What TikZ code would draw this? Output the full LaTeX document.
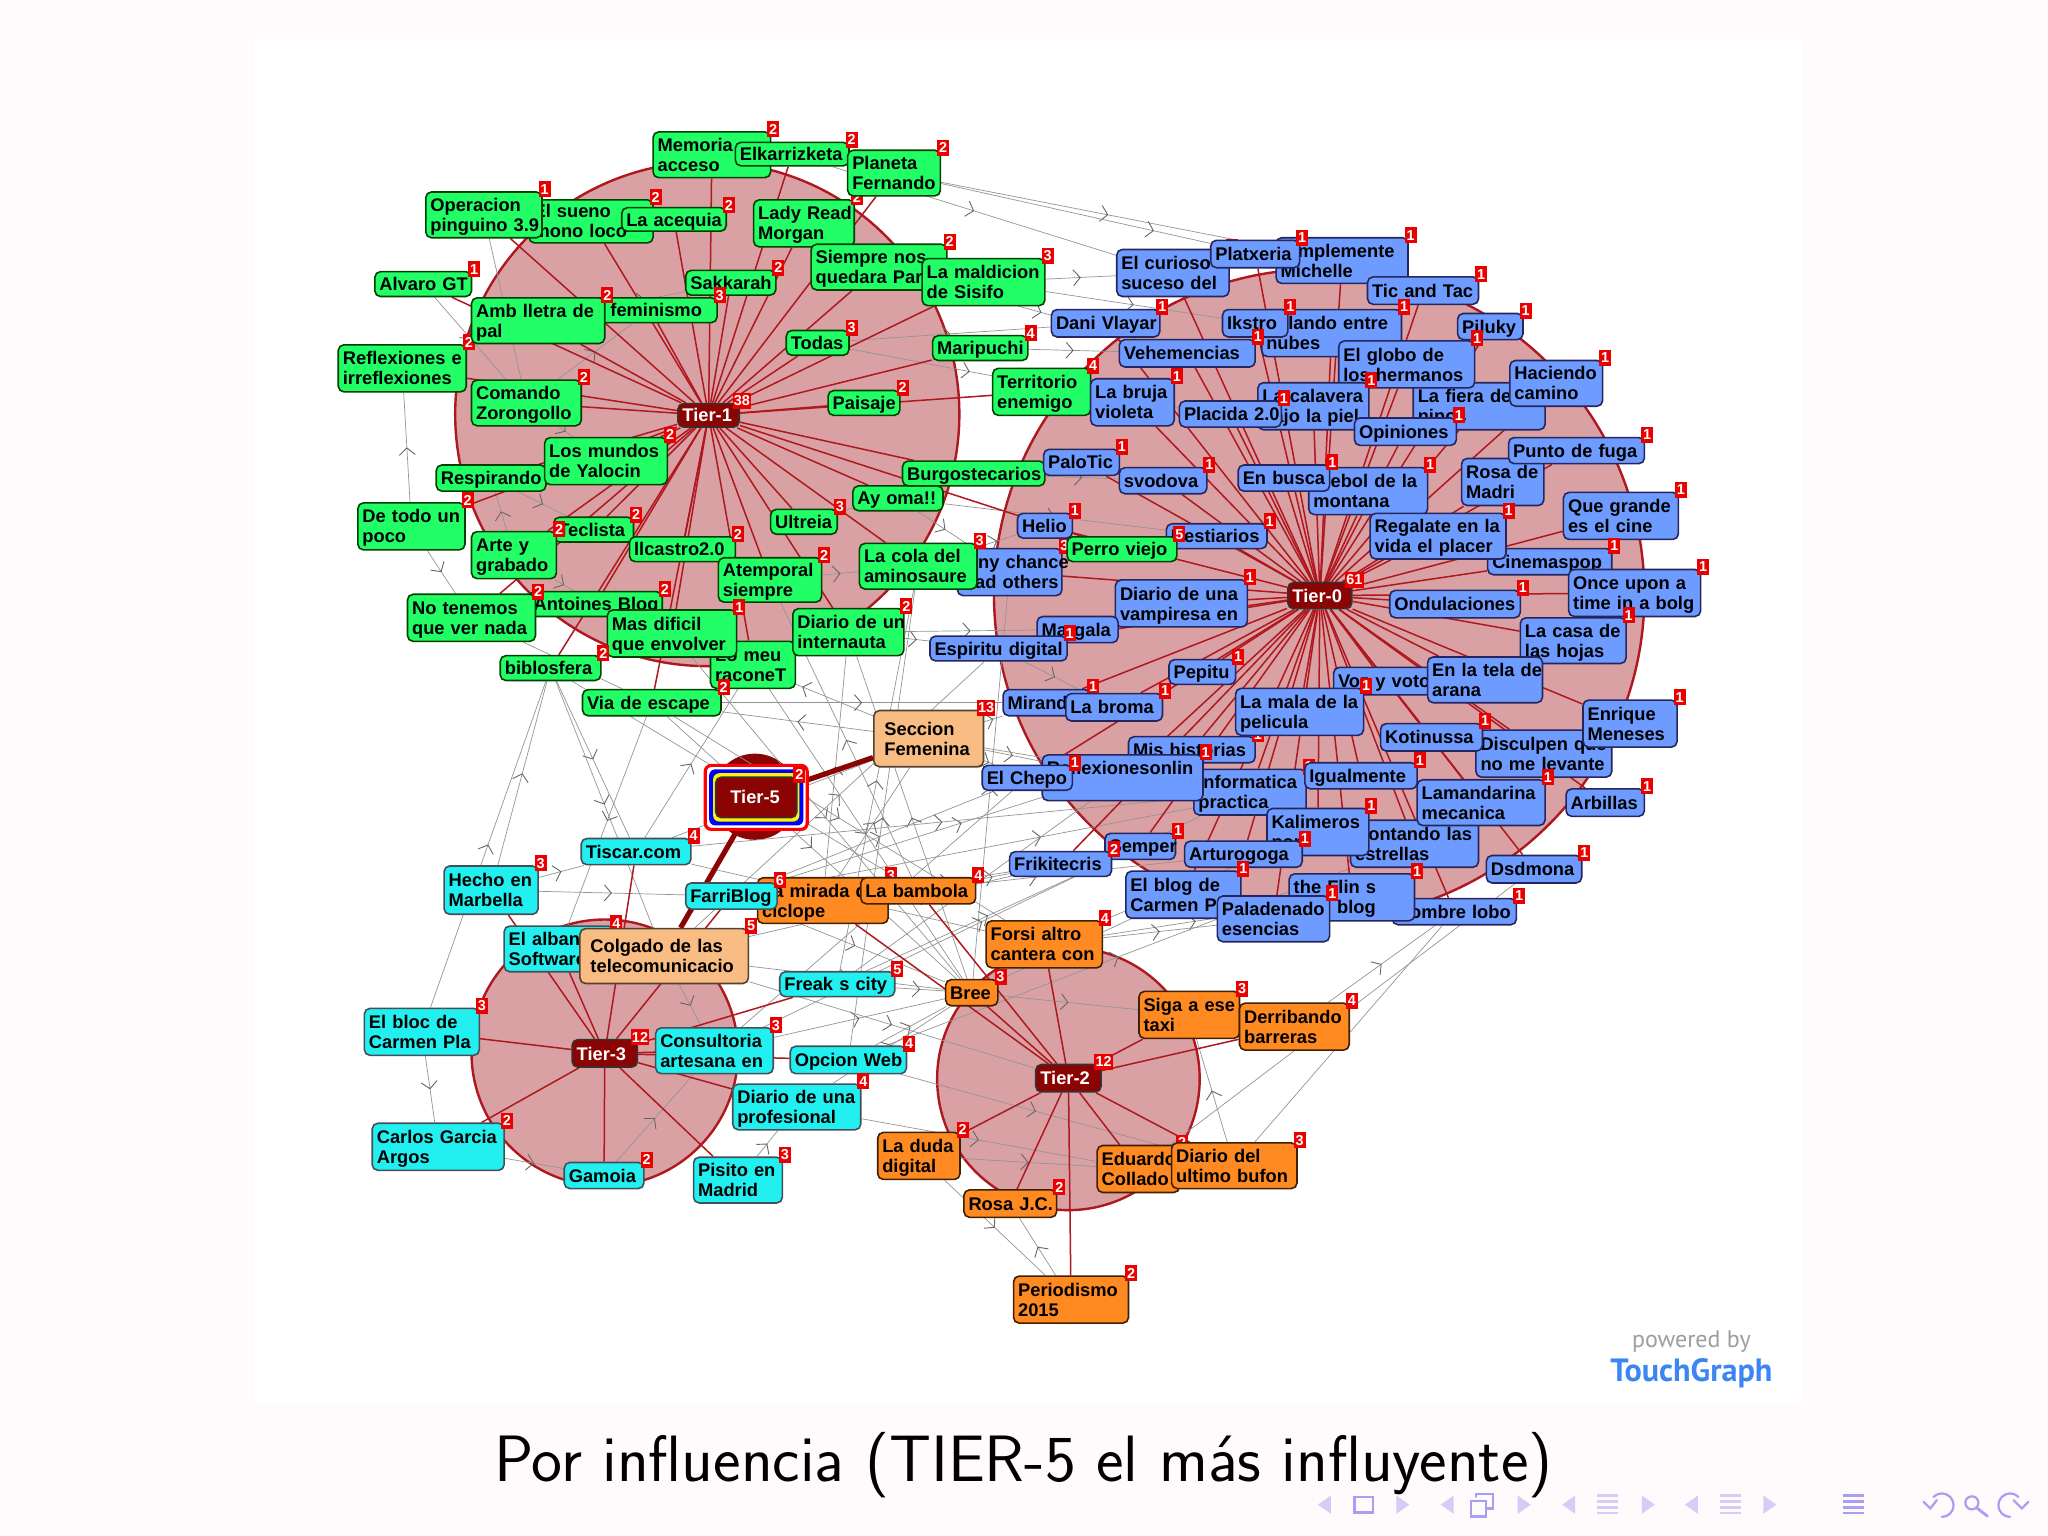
\documentclass[tikz,border=0pt]{standalone}
\usepackage{fontspec}
\usetikzlibrary{arrows.meta,backgrounds,decorations.markings}
\newfontfamily\blogfont{Liberation Sans}
\newfontfamily\logofont{PT Sans}

\definecolor{slidebg}{HTML}{FFFAFB}
\definecolor{ringfill}{HTML}{D9A1A3}
\definecolor{ringline}{HTML}{B0181F}
\definecolor{tierred}{HTML}{8A0404}
\definecolor{greenblog}{HTML}{22FF66}
\definecolor{blueblog}{HTML}{6E9BFF}
\definecolor{cyanblog}{HTML}{22F0F0}
\definecolor{orangeblog}{HTML}{FF8A22}
\definecolor{peachblog}{HTML}{F9BC82}
\definecolor{navcol}{HTML}{D2CEF6}
\definecolor{navdark}{HTML}{A79FF0}
\definecolor{touchblue}{HTML}{3B86F2}

\tikzset{
	blogbox/.style = {rectangle, rounded corners=2.8pt, line width=.8pt, inner sep=0pt, align=left, font=\blogfont\fontsize{9.15}{10}\bfseries\selectfont},
	greenbox/.style = {blogbox, fill=greenblog, draw=green!25!black},
	bluebox/.style = {blogbox, fill=blueblog, draw=blue!25!black!85},
	cyanbox/.style = {blogbox, fill=cyanblog, draw=cyan!25!black},
	orangebox/.style = {blogbox, fill=orangeblog, draw=orange!25!black},
	peachbox/.style = {blogbox, fill=peachblog, draw=orange!15!black!80},
	tierbox/.style = {blogbox, fill=tierred, draw=black!80, text=white},
	badge/.style = {rectangle, fill=red!92!black, text=white, inner xsep=.6pt, inner ysep=0pt, minimum width=6pt, minimum height=8pt, font=\blogfont\fontsize{7.2}{7.5}\bfseries\selectfont},
	tieredge/.style = {draw=ringline, line width=.75pt},
	fatedge/.style = {draw=tierred, line width=2.6pt},
	linkedge/.style = {draw=black!42, line width=.35pt, postaction={decorate},
		decoration={markings, mark=at position .5 with {\arrow{Straight Barb[length=3.5pt,width=8pt,color=black!60,line width=.45pt]}}}},
	navmark/.style = {fill=navcol, draw=none},
	navline/.style = {draw=navcol, line width=.9pt, fill=none},
	navdraw/.style = {draw=navdark, line width=1.1pt, fill=none, line cap=round},
}

% style, name, x1, y1, x2, y2, text, count
\newcommand{\blog}[8]{%
	\pgfmathsetlengthmacro{\boxw}{(#5-#3)*.653pt}%
	\pgfmathsetlengthmacro{\boxh}{(#6-#4)*.653pt}%
	\pgfmathsetlengthmacro{\textw}{(#5-#3-7)*.653pt}%
	\node[#1, minimum width=\boxw, minimum height=\boxh, text width=\textw] (#2) at ({(#3+#5)/2},{(#4+#6)/2})
		{\raisebox{-1.3pt}[\height][\depth]{\begin{tabular}{@{}l@{}}#7\end{tabular}}};
	\if\relax\detokenize{#8}\relax\else
		\node[badge] (#2-n) at ({#5+2},{#4-2}) {#8};
	\fi
}

\begin{document}
\begin{tikzpicture}[x=.653pt, y=-.653pt]
	\useasboundingbox (0,0) rectangle (1568,1176);

	% Nodes, Tier-1
	\blog{greenbox}{lady}{577}{153}{654}{189}{Lady Read\\Morgan}{2}
	\blog{greenbox}{memoria}{500}{101}{590}{136}{Memoria\\acceso}{2}
	\blog{greenbox}{elkar}{563}{109}{650}{127}{Elkarrizketa}{2}
	\blog{greenbox}{planeta}{649}{115}{720}{150}{Planeta\\Fernando}{2}
	\blog{greenbox}{sueno}{405}{153}{500}{186}{El sueno\\mono loco}{2}
	\blog{greenbox}{acequia}{476}{159}{556}{177}{La acequia}{2}
	\blog{greenbox}{operacion}{326}{147}{415}{182}{Operacion\\pinguino 3.9}{1}
	\blog{greenbox}{alvaro}{287}{208}{361}{227}{Alvaro GT}{1}
	\blog{greenbox}{sakkarah}{525}{207}{594}{226}{Sakkarah}{2}
	\blog{greenbox}{siempre}{621}{187}{725}{222}{Siempre nos\\quedara Par}{2}
	\blog{greenbox}{maldicion}{706}{198}{800}{234}{La maldicion\\de Sisifo}{3}
	\blog{greenbox}{feminismo}{447}{228}{549}{247}{\hspace*{11pt}feminismo}{3}
	\blog{greenbox}{reflexiones}{259}{264}{357}{300}{Reflexiones e\\irreflexiones}{2}
	\blog{greenbox}{amb}{361}{228}{463}{263}{Amb lletra de\\pal}{2}
	\blog{greenbox}{todas}{602}{253}{650}{272}{Todas}{3}
	\blog{greenbox}{maripuchi}{714}{257}{787}{276}{Maripuchi}{4}
	\blog{greenbox}{territorio}{760}{282}{835}{318}{Territorio\\enemigo}{4}
	\blog{greenbox}{comando}{361}{291}{445}{326}{Comando\\Zorongollo}{2}
	\blog{greenbox}{paisaje}{634}{299}{689}{318}{Paisaje}{2}
	\blog{greenbox}{respirando}{334}{356}{418}{376}{Respirando}{}
	\blog{greenbox}{mundos}{417}{335}{511}{371}{Los mundos\\de Yalocin}{2}
	\blog{greenbox}{ayoma}{653}{372}{722}{391}{Ay oma!!}{}
	\blog{greenbox}{burgos}{691}{353}{800}{372}{Burgostecarios}{}
	\blog{greenbox}{ultreia}{590}{390}{641}{409}{Ultreia}{3}
	\blog{greenbox}{detodo}{274}{385}{356}{421}{De todo un\\poco}{2}
	\blog{greenbox}{teclista}{424}{396}{485}{415}{Teclista}{2}
	\blog{greenbox}{arte}{361}{407}{426}{443}{Arte y\\grabado}{2}
	\blog{greenbox}{ilcastro}{482}{411}{563}{430}{llcastro2.0}{2}
	\blog{greenbox}{atemporal}{550}{427}{629}{461}{Atemporal\\siempre}{2}
	\blog{greenbox}{antoines}{405}{453}{507}{472}{Antoines Blog}{2}
	\blog{greenbox}{tenemos}{312}{455}{410}{491}{No tenemos\\que ver nada}{2}
	\blog{greenbox}{meu}{544}{491}{609}{527}{Lo meu\\raconeT}{3}
	\blog{greenbox}{masdificil}{465}{467}{564}{503}{Mas dificil\\que envolver}{1}
	\blog{greenbox}{internauta}{607}{466}{692}{502}{Diario de un\\internauta}{2}
	\blog{greenbox}{biblosfera}{383}{502}{460}{521}{biblosfera}{2}
	\blog{greenbox}{via}{446}{528}{552}{548}{Via de escape}{2}

	% Nodes, Tier-0
	\blog{bluebox}{chance}{733}{420}{813}{456}{\hspace*{1.5pt}Any chance\\Bad others}{3}
	\blog{greenbox}{cola}{658}{416}{748}{451}{La cola del\\aminosaure}{3}
	\blog{bluebox}{curioso}{855}{191}{941}{227}{El curioso\\suceso del}{1}
	\blog{bluebox}{simplemente}{977}{182}{1078}{217}{Simplemente\\Michelle}{1}
	\blog{bluebox}{platxeria}{927}{184}{995}{205}{Platxeria}{1}
	\blog{bluebox}{tictac}{1047}{212}{1132}{233}{Tic and Tac}{1}
	\blog{bluebox}{dani}{805}{237}{888}{258}{Dani Vlayar}{1}
	\blog{bluebox}{volando}{966}{237}{1073}{273}{Volando entre\\nubes}{1}
	\blog{bluebox}{ikstro}{936}{237}{986}{258}{Ikstro}{1}
	\blog{bluebox}{piluky}{1116}{240}{1166}{260}{Piluky}{1}
	\blog{bluebox}{vehemencias}{857}{260}{961}{281}{Vehemencias}{1}
	\blog{bluebox}{fiera}{1082}{293}{1183}{329}{La fiera de\\ninos}{1}
	\blog{bluebox}{globo}{1025}{261}{1129}{297}{El globo de\\los hermanos}{1}
	\blog{bluebox}{haciendo}{1156}{276}{1227}{311}{Haciendo\\camino}{1}
	\blog{bluebox}{bruja}{835}{290}{899}{326}{La bruja\\violeta}{1}
	\blog{bluebox}{calavera}{963}{293}{1048}{329}{La calavera\\bajo la piel}{1}
	\blog{bluebox}{placida}{903}{307}{981}{327}{Placida 2.0}{1}
	\blog{bluebox}{opiniones}{1037}{320}{1115}{341}{Opiniones}{1}
	\blog{bluebox}{palotic}{799}{344}{857}{364}{PaloTic}{1}
	\blog{bluebox}{svodova}{857}{358}{924}{378}{svodova}{1}
	\blog{bluebox}{trebol}{1002}{358}{1093}{394}{Trebol de la\\montana}{1}
	\blog{bluebox}{busca}{948}{356}{1018}{376}{En busca}{1}
	\blog{bluebox}{rosamadri}{1119}{351}{1182}{387}{Rosa de\\Madri}{}
	\blog{bluebox}{punto}{1155}{335}{1259}{355}{Punto de fuga}{1}
	\blog{bluebox}{cinegrande}{1197}{377}{1285}{413}{Que grande\\es el cine}{1}
	\blog{bluebox}{helio}{779}{393}{821}{412}{Helio}{1}
	\blog{bluebox}{bestiarios}{893}{401}{970}{420}{Bestiarios}{1}
	\blog{greenbox}{perro}{817}{411}{901}{430}{Perro viejo}{5}
	\blog{bluebox}{cinemaspop}{1139}{420}{1234}{440}{Cinemaspop}{1}
	\blog{bluebox}{regalate}{1049}{393}{1153}{428}{Regalate en la\\vida el placer}{1}
	\blog{bluebox}{ondulaciones}{1064}{452}{1164}{473}{Ondulaciones}{1}
	\blog{bluebox}{onceupon}{1201}{436}{1302}{472}{Once upon a\\time in a bolg}{1}
	\blog{bluebox}{casa}{1164}{473}{1245}{508}{La casa de\\las hojas}{1}
	\blog{bluebox}{vampiresa}{854}{444}{955}{480}{Diario de una\\vampiresa en}{1}
	\blog{bluebox}{margala}{794}{472}{856}{492}{Margala}{}
	\blog{bluebox}{espiritu}{712}{487}{817}{506}{Espiritu digital}{1}
	\blog{bluebox}{pepitu}{895}{505}{946}{524}{Pepitu}{1}
	\blog{bluebox}{voto}{1021}{511}{1098}{532}{Voz y voto}{}
	\blog{bluebox}{tela}{1093}{503}{1181}{538}{En la tela de\\arana}{}
	\blog{bluebox}{mirando}{768}{528}{835}{548}{Mirando}{1}
	\blog{bluebox}{broma}{816}{531}{890}{552}{La broma}{1}
	\blog{bluebox}{historias}{864}{564}{961}{584}{Mis historias}{1}
	\blog{bluebox}{lamala}{946}{527}{1044}{563}{La mala de la\\pelicula}{1}
	\blog{bluebox}{disculpen}{1130}{559}{1234}{595}{Disculpen que\\no me levante}{}
	\blog{bluebox}{kotinussa}{1057}{554}{1135}{575}{Kotinussa}{1}
	\blog{bluebox}{enrique}{1212}{536}{1284}{572}{Enrique\\Meneses}{1}
	\blog{bluebox}{informatica}{914}{589}{1000}{624}{Informatica\\practica}{1}
	\blog{bluebox}{reflexionesonlin}{798}{578}{921}{613}{Reflexionesonlin\\\mbox{}}{1}
	\blog{bluebox}{chepo}{752}{586}{821}{605}{El Chepo}{1}
	\blog{bluebox}{igualmente}{999}{584}{1085}{604}{Igualmente}{1}
	\blog{bluebox}{contando}{1034}{628}{1132}{664}{Contando las\\estrellas}{}
	\blog{bluebox}{lamandarina}{1085}{597}{1183}{632}{Lamandarina\\mecanica}{1}
	\blog{bluebox}{arbillas}{1199}{604}{1259}{625}{Arbillas}{1}
	\blog{bluebox}{kalimeros}{970}{619}{1048}{655}{Kalimeros\\por}{1}
	\blog{bluebox}{semper}{846}{638}{900}{658}{Semper}{1}
	\blog{bluebox}{arturogoga}{907}{644}{997}{664}{Arturogoga}{1}
	\blog{bluebox}{frikitecris}{773}{652}{851}{671}{Frikitecris}{2}
	\blog{bluebox}{dsdmona}{1138}{655}{1211}{676}{Dsdmona}{1}
	\blog{bluebox}{blogcarmen}{862}{667}{950}{703}{El blog de\\Carmen P}{1}
	\blog{bluebox}{hombre}{1066}{688}{1161}{708}{Hombre lobo}{1}
	\blog{bluebox}{flin}{987}{669}{1083}{705}{the Flin s\\Tom blog}{1}
	\blog{bluebox}{paladenado}{932}{686}{1018}{721}{Paladenado\\esencias}{1}

	% Nodes, Tier-2
	\blog{orangebox}{forsi}{755}{705}{844}{741}{Forsi altro\\cantera con}{4}
	\blog{orangebox}{bree}{724}{750}{764}{770}{Bree}{3}
	\blog{orangebox}{siga}{872}{759}{949}{795}{Siga a ese\\taxi}{3}
	\blog{orangebox}{derribando}{949}{768}{1033}{804}{Derribando\\barreras}{4}
	\blog{orangebox}{laduda}{672}{867}{735}{903}{La duda\\digital}{2}
	\blog{orangebox}{eduardo}{840}{877}{903}{913}{Eduardo\\Collado}{2}
	\blog{orangebox}{ultimo}{897}{875}{993}{910}{Diario del\\ultimo bufon}{3}
	\blog{orangebox}{rosajc}{738}{911}{809}{932}{Rosa J.C.}{2}
	\blog{orangebox}{periodismo}{776}{977}{864}{1013}{Periodismo\\2015}{2}
	\blog{orangebox}{mirada}{580}{672}{680}{707}{La mirada del\\ciclope}{3}
	\blog{orangebox}{bambola}{659}{672}{747}{692}{La bambola}{4}

	% Nodes, Tier-3
	\blog{cyanbox}{tiscar}{445}{642}{529}{662}{Tiscar.com}{4}
	\blog{cyanbox}{hecho}{340}{663}{412}{700}{Hecho en\\Marbella}{3}
	\blog{cyanbox}{farriblog}{525}{676}{595}{696}{FarriBlog}{6}
	\blog{cyanbox}{albani}{386}{709}{470}{744}{El albanil\\Software}{4}
	\blog{cyanbox}{freak}{597}{744}{685}{763}{Freak s city}{5}
	\blog{cyanbox}{elbloc}{279}{772}{367}{808}{El bloc de\\Carmen Pla}{3}
	\blog{cyanbox}{consultoria}{502}{787}{592}{822}{Consultoria\\artesana en}{3}
	\blog{cyanbox}{opcion}{605}{801}{694}{822}{Opcion Web}{4}
	\blog{cyanbox}{diariopro}{561}{830}{659}{865}{Diario de una\\profesional}{4}
	\blog{cyanbox}{carlos}{285}{860}{386}{896}{Carlos Garcia\\Argos}{2}
	\blog{cyanbox}{gamoia}{432}{890}{493}{910}{Gamoia}{2}
	\blog{cyanbox}{pisito}{531}{886}{599}{921}{Pisito en\\Madrid}{3}

	% Nodes, Tier-5
	\blog{peachbox}{seccion}{669}{544}{753}{587}{\hspace*{3pt}Seccion\\\hspace*{3pt}Femenina}{13}
	\blog{peachbox}{colgado}{444}{711}{573}{753}{\hspace*{3pt}Colgado de las\\\hspace*{3pt}telecomunicacio}{5}

	% Nodes, hubs
	\blog{tierbox}{tierone}{519}{309}{566}{327}{Tier-1}{38}
	\blog{tierbox}{tierzero}{986}{446}{1035}{466}{Tier-0}{61}
	\blog{tierbox}{tiertwo}{793}{815}{843}{836}{Tier-2}{12}
	\blog{tierbox}{tierthree}{438}{796}{488}{817}{Tier-3}{12}
	\draw[fill=white, draw=red, line width=1.6pt, rounded corners=3pt] (540,586) rectangle (618,635);
	\fill[blue, rounded corners=3pt] (543,589) rectangle (615,632);
	\fill[yellow, rounded corners=3pt] (546,592) rectangle (612,629);
	\blog{tierbox}{tierfive}{548}{595}{610}{626}{\hspace*{5pt}Tier-5}{2}

	% Texts
	\node[font=\logofont\fontsize{12}{12}\selectfont, text=black!38] (powered) at (1295,1027) {powered by};
	\node[font=\logofont\fontsize{16.1}{16}\bfseries\selectfont, text=touchblue] (touch) at (1295,1051) {TouchGraph};
	\node[font=\sffamily\fontsize{32.8}{34}\selectfont] (title) at (783.5,1122) {Por influencia (TIER-5 el más influyente)};

	% Navigation symbols
	\foreach \x in {1014,1108,1201,1295}
		\fill[navmark] (\x-5,1152) -- (\x+5,1145) -- (\x+5,1159) -- cycle;
	\foreach \x in {1074,1167,1262,1355}
		\fill[navmark] (\x+5,1152) -- (\x-5,1145) -- (\x-5,1159) -- cycle;
	\draw[navdraw] (1037,1146) rectangle (1051,1158);
	\draw[navdraw] (1126,1149) rectangle (1138,1161);
	\draw[navdraw] (1130,1146) -- (1130,1144) -- (1143,1144) -- (1143,1155) -- (1138,1155);
	\foreach \x in {1231,1325}
		\foreach \y in {1145,1149.5,1154,1158.5}
			\draw[navline, line width=1.3pt] (\x-8,\y) -- (\x+8,\y);
	\foreach \y in {1145,1149.5,1154,1158.5}
		\draw[navdraw, line cap=butt, line width=1.3pt] (1411,\y) -- (1427,\y);
	\draw[navdraw] (1486.7,1152.4) ++(-135:9) arc (-135:90:9);
	\draw[navdraw] (1472.7,1149.8) -- (1477.9,1154.9) -- (1482.9,1148.5);
	\draw[navdraw] (1509.7,1150.6) circle (5);
	\draw[navdraw, line width=1.4pt] (1513.5,1154.5) -- (1521.6,1160.8);
	\draw[navdraw] (1539,1152.4) ++(-45:9) arc (-45:-270:9);
	\draw[navdraw] (1541.6,1148.5) -- (1548,1154.9) -- (1553,1149.8);

	% Everything below lies under the nodes
	\begin{scope}[on background layer]
		\fill[slidebg] (0,0) rectangle (1568,1176);
		\fill[white] (195,30) rectangle (1380,1075);

		% Rings
		\fill[ringfill, draw=ringline, line width=1.2pt] (541.5,317) circle (193);
		\fill[ringfill, draw=ringline, line width=1.2pt] (1010,455) circle (249);
		\fill[ringfill, draw=ringline, line width=1.2pt] (463,806) circle (102);
		\fill[ringfill, draw=ringline, line width=1.2pt] (818,826) circle (100.5);
		\fill[tierred] (578,610) circle (33);

		% Links
		\foreach \a/\b in {planeta/simplemente, planeta/tictac, elkar/curioso, maldicion/curioso, maldicion/ikstro,
			siempre/vehemencias, maripuchi/vehemencias, todas/dani, todas/bruja, territorio/placida, burgos/palotic, burgos/svodova,
			ayoma/bestiarios, cola/helio, internauta/espiritu, via/mirando, internauta/margala, espiritu/broma,
			seccion/mirando, seccion/chepo, seccion/reflexionesonlin, seccion/informatica, seccion/masdificil, seccion/via,
			tiscar/seccion, farriblog/igualmente, mirada/arturogoga, mirada/frikitecris, bambola/frikitecris, freak/semper,
			bree/blogcarmen, forsi/flin, forsi/paladenado, forsi/kalimeros, opcion/contando, diariopro/eduardo, laduda/eduardo,
			bree/siga, ultimo/siga, derribando/hombre, ultimo/hombre, eduardo/dsdmona, periodismo/rosajc, laduda/periodismo,
			consultoria/bree, freak/bree, opcion/bree, colgado/bree, farriblog/bree, colgado/consultoria, colgado/tiertwo,
			operacion/comando, alvaro/comando, arte/antoines, tenemos/via, hecho/biblosfera, elbloc/biblosfera, detodo/reflexiones,
			detodo/tenemos, biblosfera/tiscar, biblosfera/colgado, tiscar/meu, via/albani, carlos/gamoia, elbloc/carlos,
			hecho/tiscar, hecho/farriblog, arte/respirando, amb/sakkarah, comando/mundos, comando/feminismo, respirando/teclista,
			ultreia/burgos, atemporal/cola, ayoma/chance, gamoia/consultoria, pisito/diariopro, opcion/ultimo, diariopro/bree,
			farriblog/chepo, tiscar/forsi, mirada/seccion, farriblog/historias, colgado/semper,
			freak/reflexionesonlin, consultoria/chepo, colgado/espiritu, meu/bree, via/bree, via/forsi, masdificil/bree,
			biblosfera/bambola, bambola/atemporal, mirada/internauta, freak/cola, opcion/cola, bree/internauta, bree/chance,
			tiscar/informatica, consultoria/informatica}
			\draw[linkedge] (\a) -- (\b);

		% Tier-1 spokes
		\foreach \c in {memoria, elkar, planeta, operacion, sueno, acequia, lady, alvaro, sakkarah, siempre, maldicion, feminismo,
			amb, todas, reflexiones, maripuchi, territorio, comando, paisaje, mundos, respirando, burgos, ayoma, ultreia, detodo,
			teclista, arte, ilcastro, atemporal, cola, tenemos, antoines, masdificil, internauta, meu, biblosfera, via, perro}
			\draw[tieredge] (tierone) -- (\c);

		% Tier-0 spokes
		\foreach \c in {chance, curioso, simplemente, platxeria, tictac, dani, volando, ikstro, piluky, vehemencias, fiera, globo,
			haciendo, bruja, calavera, placida, opiniones, palotic, svodova, trebol, busca, rosamadri, punto, cinegrande, helio,
			bestiarios, cinemaspop, regalate, ondulaciones, onceupon, casa, vampiresa, margala, espiritu, pepitu, voto, tela,
			mirando, broma, historias, lamala, disculpen, kotinussa, enrique, informatica, reflexionesonlin, chepo, igualmente,
			contando, lamandarina, arbillas, kalimeros, semper, arturogoga, frikitecris, dsdmona, blogcarmen, hombre, flin, paladenado}
			\draw[tieredge] (tierzero) -- (\c);

		% Tier-2 spokes
		\foreach \c in {forsi, bree, siga, derribando, laduda, eduardo, ultimo, rosajc, periodismo, mirada, bambola}
			\draw[tieredge] (tiertwo) -- (\c);

		% Tier-3 spokes
		\foreach \c in {tiscar, hecho, farriblog, albani, freak, elbloc, consultoria, opcion, diariopro, carlos, gamoia, pisito}
			\draw[tieredge] (tierthree) -- (\c);

		% Tier-5 spokes
		\foreach \c in {seccion, colgado}
			\draw[fatedge] (tierfive) -- (\c);
	\end{scope}
\end{tikzpicture}
\end{document}
